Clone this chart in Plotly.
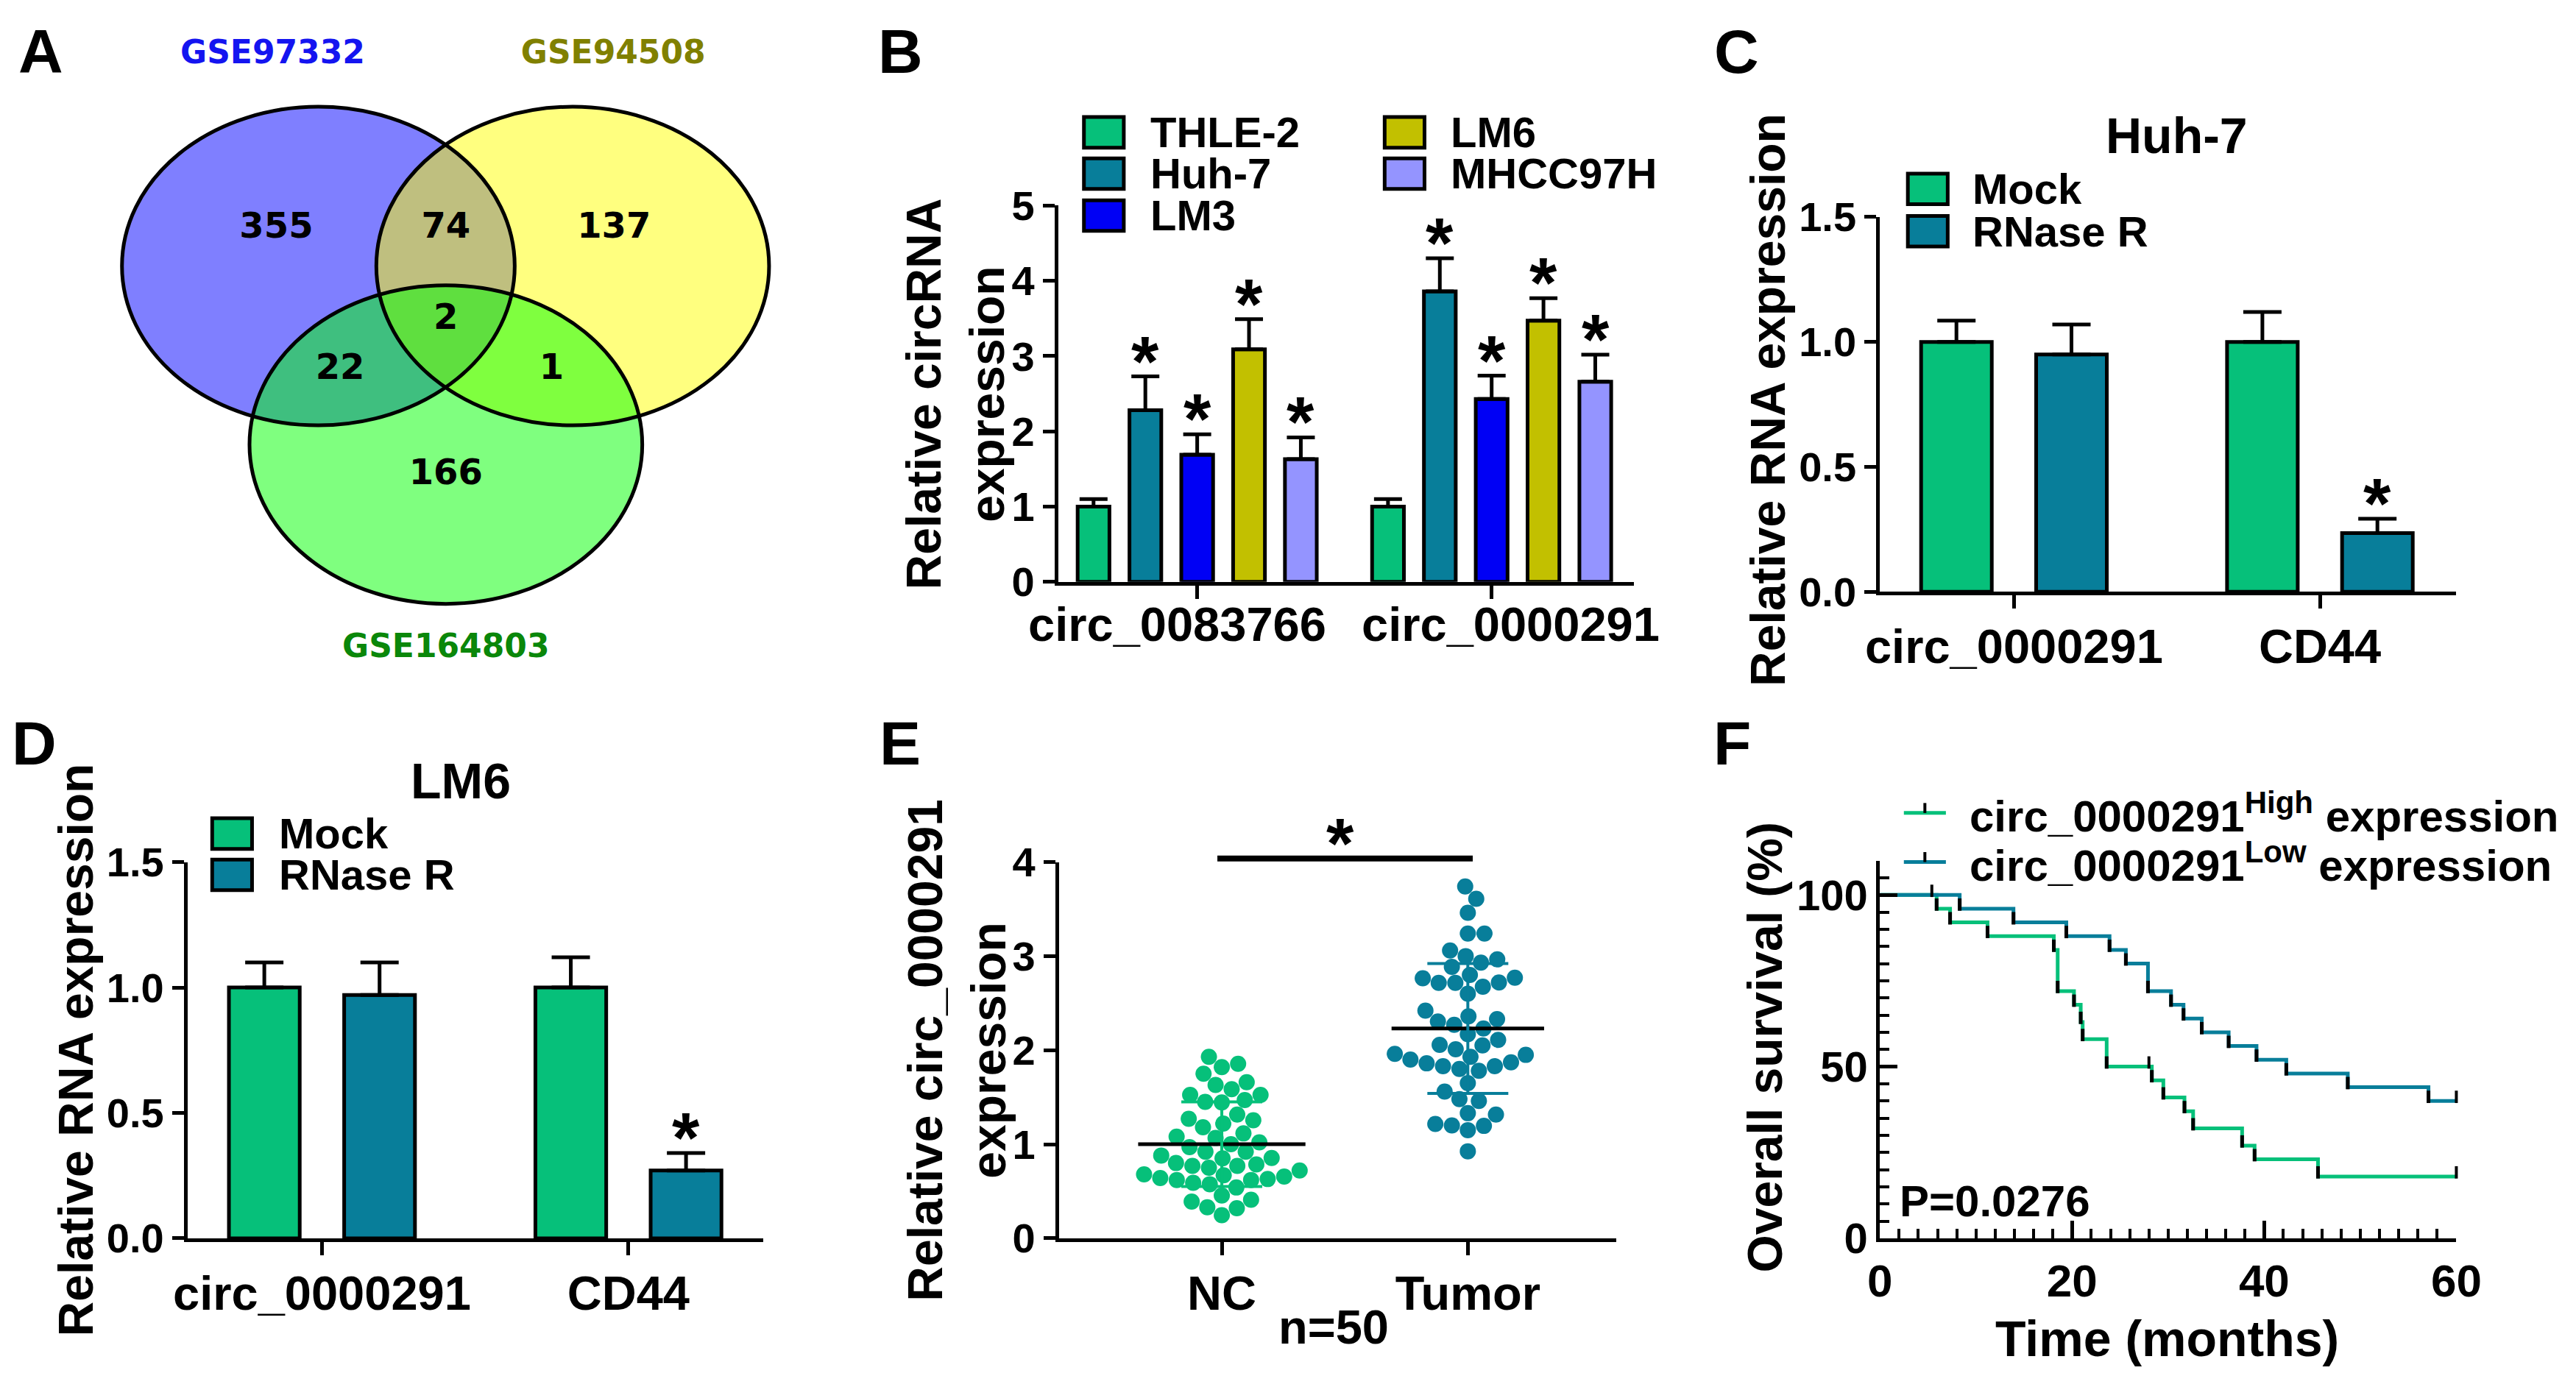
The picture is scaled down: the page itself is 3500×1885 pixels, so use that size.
import math
import plotly.graph_objects as go

W, H = 3500, 1885

# ---------------- data ----------------
# A: Venn
venn_sets = ["GSE97332", "GSE94508", "GSE164803"]
venn_regions = ["GSE97332 only", "GSE97332&GSE94508", "GSE94508 only",
                "GSE97332&GSE164803", "all three", "GSE94508&GSE164803", "GSE164803 only"]
venn_values = [355, 74, 137, 22, 2, 1, 166]

# B
b_groups = ["circ_0083766", "circ_0000291"]
b_series = ["THLE-2", "Huh-7", "LM3", "LM6", "MHCC97H"]
b_thle2 = [1.00, 1.00]
b_huh7 = [2.28, 3.86]
b_lm3 = [1.69, 2.43]
b_lm6 = [3.09, 3.47]
b_mhcc = [1.63, 2.66]
b_thle2_sd = [0.10, 0.10]
b_huh7_sd = [0.45, 0.44]
b_lm3_sd = [0.27, 0.31]
b_lm6_sd = [0.40, 0.30]
b_mhcc_sd = [0.29, 0.36]
b_sig = [False, True, True, True, True]

# C (Huh-7) and D (LM6)
rn_groups = ["circ_0000291", "CD44"]
rn_series = ["Mock", "RNase R"]
c_mock = [1.00, 1.00]
c_mock_sd = [0.085, 0.12]
c_rnase = [0.95, 0.235]
c_rnase_sd = [0.12, 0.057]
d_mock = [1.00, 1.00]
d_mock_sd = [0.10, 0.12]
d_rnase = [0.97, 0.27]
d_rnase_sd = [0.13, 0.07]
rn_sig_mock = [False, False]
rn_sig_rnase = [False, True]

# E
e_groups = ["NC", "Tumor"]
e_nc = [1.93, 1.82, 1.855, 1.75, 1.63, 1.66, 1.585, 1.525, 1.525, 1.47,
        1.445, 1.45, 1.315, 1.255, 1.27, 1.22, 1.18, 1.115, 1.066, 1.08,
        1.02, 1.00, 0.92, 0.92, 0.853, 0.88, 0.785, 0.80, 0.77, 0.77,
        0.72, 0.75, 0.67, 0.68, 0.64, 0.656, 0.62, 0.63, 0.59, 0.62,
        0.54, 0.575, 0.41, 0.455, 0.33, 0.39, 0.32, 0.245, 0.97, 0.85]
e_tumor = [3.74, 3.61, 3.46, 3.24, 3.24, 3.06, 3.00, 2.93, 2.885, 2.965,
           2.80, 2.765, 2.72, 2.715, 2.675, 2.715, 2.77, 2.60, 2.42, 2.36,
           2.33, 2.305, 2.27, 2.23, 2.17, 2.11, 2.05, 2.056, 2.01, 1.96,
           1.95, 1.93, 1.90, 1.87, 1.86, 1.83, 1.83, 1.78, 1.80, 1.65,
           1.56, 1.46, 1.48, 1.315, 1.33, 1.20, 1.195, 1.215, 1.15, 0.925]
e_mean = [1.00, 2.23]
e_sd = [0.45, 0.69]
e_n_label = "n=50"

# F: Kaplan-Meier
f_high_t = [0, 5.9, 7.3, 11.2, 18.1, 18.5, 20.2, 20.9, 21.1, 23.6, 28.3, 29.5,
            31.7, 32.6, 37.7, 39.0, 45.6, 60]
f_high_s = [100, 96, 92, 88, 84, 72, 68, 63, 58, 50, 46, 41, 37, 32, 27, 23, 18, 18]
f_low_t = [0, 8.3, 13.9, 19.4, 23.9, 25.6, 27.9, 30.3, 31.6, 33.5, 36.3, 39.2,
           42.3, 48.7, 57.1, 60]
f_low_s = [100, 96, 92, 88, 84, 80, 72, 68, 64, 60, 56, 52, 48, 44, 40, 40]
f_high_cens_t = [28.0, 60]
f_high_cens_s = [50, 18]
f_low_cens_t = [5.4, 60]
f_low_cens_s = [100, 40]
f_labels = ["circ_0000291<sup>High</sup> expression", "circ_0000291<sup>Low</sup> expression"]
f_pvalue = "P=0.0276"

# ---------------- style ----------------
GREEN = "#06C07A"
TEAL = "#087E9A"
BLUE = "#0000F5"
OLIVE = "#C2C000"
LAV = "#9494FF"
b_colors = [GREEN, TEAL, BLUE, OLIVE, LAV]
rn_colors = [GREEN, TEAL]

FAM = "Liberation Sans, Arial, sans-serif"
VFAM = "DejaVu Sans, Verdana, sans-serif"

TICK_SIZE = 56
CAT_SIZE = 65
LEG_SIZE = 58
TITLE_SIZE = 68
YT_SIZE = 66
STAR_SIZE = 96
STAR_SHIFT = -34
LETTER_SIZE = 84


def fnt(size, color="black", family=FAM):
    return dict(family=family, size=size, color=color, weight="bold")


def px_x(px):
    return px / W


def px_y(py):
    return 1 - py / H


fig = go.Figure()
shapes = []
annos = []

axis_common = dict(showline=True, linecolor="black", linewidth=5, showgrid=False,
                   zeroline=False, ticks="outside", tickwidth=5, tickcolor="black",
                   ticklen=16, tickfont=fnt(TICK_SIZE), fixedrange=True)


def text_at(text, cx, cy, size, xanchor="center", angle=0):
    annos.append(dict(text=text, x=px_x(cx), y=px_y(cy), xref="paper", yref="paper",
                      showarrow=False, xanchor=xanchor, yanchor="middle", textangle=angle,
                      font=fnt(size)))


def add_legend_box(cx, cy, w, h, color, label, tx, size=LEG_SIZE):
    shapes.append(dict(type="rect", xref="paper", yref="paper",
                       x0=px_x(cx - w / 2), x1=px_x(cx + w / 2),
                       y0=px_y(cy + h / 2), y1=px_y(cy - h / 2),
                       fillcolor=color, line=dict(color="black", width=5)))
    text_at(label, tx, cy, size, xanchor="left")


def add_bars(xa, ya, series_vals, series_sds, names, colors, sigs, slot, width, capw):
    nser = len(series_vals)
    for i, (vals, sds) in enumerate(zip(series_vals, series_sds)):
        off = (i - (nser - 1) / 2) * slot
        xs = [g + off for g in range(len(vals))]
        fig.add_trace(go.Bar(
            x=xs, y=vals, width=width, name=names[i], xaxis=xa, yaxis=ya,
            marker=dict(color=colors[i], line=dict(color="black", width=5)),
            error_y=dict(type="data", array=sds, arrayminus=[0] * len(sds), symmetric=False,
                         color="black", thickness=5, width=capw),
            showlegend=False))
        sig = sigs[i] if isinstance(sigs[i], list) else [sigs[i]] * len(vals)
        for x, v, s, flag in zip(xs, vals, sds, sig):
            if flag:
                annos.append(dict(text="*", x=x, y=v + s, xref=xa, yref=ya, showarrow=False,
                                  xanchor="center", yanchor="bottom", yshift=STAR_SHIFT,
                                  font=fnt(STAR_SIZE)))


# ---------------- Panel A: Venn ----------------
venn_centers = [(419, 342), (770, 342), (595, 593)]
venn_r = (271, 224)
venn_fill = ["rgba(0,0,255,0.5)", "rgba(255,255,0,0.5)", "rgba(0,255,0,0.5)"]
venn_label_pos = [(361, 290), (595, 290), (827, 290), (449, 488), (595, 418), (741, 488), (595, 636)]
venn_title_pos = [(356, 45), (826, 45), (595, 880)]
venn_title_col = ["#1414F0", "#808000", "#0A870A"]

for (cx, cy), fc in zip(venn_centers, venn_fill):
    shapes.append(dict(type="circle", xref="x6", yref="y6",
                       x0=cx - venn_r[0], x1=cx + venn_r[0], y0=cy - venn_r[1], y1=cy + venn_r[1],
                       fillcolor=fc, line=dict(width=0), layer="below"))
for (cx, cy) in venn_centers:
    shapes.append(dict(type="circle", xref="x6", yref="y6",
                       x0=cx - venn_r[0], x1=cx + venn_r[0], y0=cy - venn_r[1], y1=cy + venn_r[1],
                       fillcolor="rgba(0,0,0,0)", line=dict(color="black", width=5)))
fig.add_trace(go.Scatter(
    x=[p[0] for p in venn_label_pos], y=[p[1] for p in venn_label_pos],
    text=[str(v) for v in venn_values], mode="text", textposition="middle center",
    textfont=fnt(48, family=VFAM), xaxis="x6", yaxis="y6", showlegend=False, hoverinfo="skip"))
fig.add_trace(go.Scatter(
    x=[p[0] for p in venn_title_pos], y=[p[1] for p in venn_title_pos],
    text=venn_sets, mode="text", textposition="middle center",
    textfont=dict(family=VFAM, size=44, color=venn_title_col, weight="bold"),
    xaxis="x6", yaxis="y6", showlegend=False, hoverinfo="skip"))
text_at("A", 36, 40, LETTER_SIZE)

# ---------------- Panel B ----------------
add_bars("x", "y",
         [b_thle2, b_huh7, b_lm3, b_lm6, b_mhcc],
         [b_thle2_sd, b_huh7_sd, b_lm3_sd, b_lm6_sd, b_mhcc_sd],
         b_series, b_colors, b_sig, slot=0.176, width=0.108, capw=19)
text_at("B", 1222, 40, LETTER_SIZE)
leg_b = [(1503, 154), (1503, 212), (1503, 271), (1918, 154), (1918, 212)]
for i, name in enumerate(b_series):
    cx, cy = leg_b[i]
    add_legend_box(cx, cy, 55, 43, b_colors[i], name, cx + 62)
text_at("Relative circRNA<br>expression", 1298, 522, YT_SIZE, angle=-90)
b_label_x = [-0.068, 1.064]
for xv, lab in zip(b_label_x, b_groups):
    annos.append(dict(text=lab, x=xv, xref="x", y=px_y(846), yref="paper", showarrow=False,
                      xanchor="center", yanchor="middle", font=fnt(CAT_SIZE)))

# ---------------- Panel C ----------------
add_bars("x2", "y2", [c_mock, c_rnase], [c_mock_sd, c_rnase_sd], rn_series, rn_colors,
         [rn_sig_mock, rn_sig_rnase], slot=0.376, width=0.231, capw=26)
text_at("C", 2376, 40, LETTER_SIZE)
text_at("Huh-7", 2984, 158, TITLE_SIZE)
for i, name in enumerate(rn_series):
    add_legend_box(2640, [233.5, 293][i], 55, 43, rn_colors[i], name, 2700)
text_at("Relative RNA expression", 2420, 530, YT_SIZE, angle=-90)

# ---------------- Panel D ----------------
add_bars("x3", "y3", [d_mock, d_rnase], [d_mock_sd, d_rnase_sd], rn_series, rn_colors,
         [rn_sig_mock, rn_sig_rnase], slot=0.376, width=0.231, capw=26)
text_at("D", 27, 1013, LETTER_SIZE)
text_at("LM6", 616, 1066, TITLE_SIZE)
for i, name in enumerate(rn_series):
    add_legend_box(300, [1140, 1198][i], 55, 43, rn_colors[i], name, 363)
text_at("Relative RNA expression", 84, 1444, YT_SIZE, angle=-90)

# ---------------- Panel E ----------------
E_XPX, E_YPX = 340.0, 132.3   # px per unit on x / y in panel E


def swarm(values, d):
    order = sorted(range(len(values)), key=lambda i: values[i])
    placed = []
    xs = [0.0] * len(values)
    for i in order:
        y = values[i] * E_YPX
        cands = [0.0]
        for (px, py) in placed:
            dy = abs(py - y)
            if dy < d:
                dx = math.sqrt(d * d - dy * dy)
                cands += [px + dx, px - dx]
        cands.sort(key=abs)
        for c in cands:
            if all((c - px) ** 2 + (y - py) ** 2 >= d * d - 1e-6 for px, py in placed):
                xs[i] = c
                break
        placed.append((xs[i], y))
    return [x / E_XPX for x in xs]


for gi, (vals, col) in enumerate(zip([e_nc, e_tumor], rn_colors)):
    offs = swarm(vals, 23.0)
    fig.add_trace(go.Scatter(x=[gi + o for o in offs], y=vals, mode="markers",
                             marker=dict(color=col, size=22, line=dict(width=0)),
                             xaxis="x4", yaxis="y4", showlegend=False, cliponaxis=False))
e_half = [0.34, 0.31]
for gi in range(2):
    fig.add_trace(go.Scatter(x=[gi - e_half[gi], gi + e_half[gi]], y=[e_mean[gi]] * 2,
                             mode="lines", line=dict(color="black", width=5),
                             xaxis="x4", yaxis="y4", showlegend=False))
    fig.add_trace(go.Scatter(x=[gi], y=[e_mean[gi]], mode="markers",
                             marker=dict(size=1, color="rgba(0,0,0,0)"),
                             error_y=dict(type="data", array=[e_sd[gi]], color=rn_colors[gi],
                                          thickness=4, width=55),
                             xaxis="x4", yaxis="y4", showlegend=False))
shapes.append(dict(type="line", xref="x4", yref="paper", x0=-0.018, x1=1.02,
                   y0=px_y(1175), y1=px_y(1175), line=dict(color="black", width=8)))
annos.append(dict(text="*", x=0.48, xref="x4", y=px_y(1175), yref="paper", showarrow=False,
                  xanchor="center", yanchor="bottom", yshift=STAR_SHIFT, font=fnt(STAR_SIZE)))
text_at(e_n_label, 1820, 1834, CAT_SIZE)
text_at("E", 1222, 1013, LETTER_SIZE)
text_at("Relative circ_0000291<br>expression", 1300, 1444, YT_SIZE, angle=-90)

# ---------------- Panel F ----------------
F_TICK = 1.2   # survival-% offset so each black event tick sits just above the new level
for t, s, col in [(f_high_t, f_high_s, GREEN), (f_low_t, f_low_s, TEAL)]:
    fig.add_trace(go.Scatter(x=t, y=s, mode="lines", line=dict(color=col, width=5, shape="hv"),
                             xaxis="x5", yaxis="y5", showlegend=False))
    fig.add_trace(go.Scatter(x=t[1:-1], y=[v + F_TICK for v in s[1:-1]], mode="markers",
                             marker=dict(symbol="line-ns", size=12,
                                         line=dict(color="black", width=5)),
                             xaxis="x5", yaxis="y5", showlegend=False, hoverinfo="skip"))
for t, s in [(f_high_cens_t, f_high_cens_s), (f_low_cens_t, f_low_cens_s)]:
    fig.add_trace(go.Scatter(x=t, y=[v + F_TICK for v in s], mode="markers", cliponaxis=False,
                             marker=dict(symbol="line-ns", size=12, line=dict(color="black", width=4)),
                             xaxis="x5", yaxis="y5", showlegend=False, hoverinfo="skip"))
text_at("F", 2370, 1013, LETTER_SIZE)
for i, (lab, col) in enumerate(zip(f_labels, [GREEN, TEAL])):
    ly = [1111, 1180][i]
    shapes.append(dict(type="line", xref="paper", yref="paper", x0=px_x(2607), x1=px_x(2665),
                       y0=px_y(ly), y1=px_y(ly), line=dict(color=col, width=5)))
    shapes.append(dict(type="line", xref="paper", yref="paper", x0=px_x(2636), x1=px_x(2636),
                       y0=px_y(ly), y1=px_y(ly - 14), line=dict(color="black", width=4)))
    text_at(lab, 2696, ly, 60, xanchor="left")
text_at(f_pvalue, 2599, 1657, 60, xanchor="left")
text_at("Time (months)", 2970, 1850, TITLE_SIZE)
text_at("Overall survival (%)", 2415, 1440, YT_SIZE, angle=-90)

# ---------------- axes ----------------
cat_font = fnt(CAT_SIZE)
BOT = 1709
STO = -4
layout_axes = dict(
    xaxis=dict(axis_common, domain=[px_x(1440), px_x(2234)], range=[-0.472, 1.482],
               tickvals=[0, 1], showticklabels=False, ticklen=18, anchor="y"),
    yaxis=dict(axis_common, domain=[px_y(786), px_y(257)], range=[0, 5], dtick=1, anchor="x"),
    xaxis2=dict(axis_common, domain=[px_x(2574), px_x(3369)], range=[-0.438, 1.445],
                tickvals=[0, 1], ticktext=rn_groups, tickfont=cat_font, ticklen=18,
                ticklabelstandoff=STO, anchor="y2"),
    yaxis2=dict(axis_common, domain=[px_y(800), px_y(273)], range=[0, 1.5],
                tickvals=[0, 0.5, 1.0, 1.5], ticktext=["0.0", "0.5", "1.0", "1.5"], anchor="x2"),
    xaxis3=dict(axis_common, domain=[px_x(238.5), px_x(1033)], range=[-0.4385, 1.44],
                tickvals=[0, 1], ticktext=rn_groups, tickfont=cat_font, ticklen=18,
                ticklabelstandoff=STO, anchor="y3"),
    yaxis3=dict(axis_common, domain=[px_y(BOT), px_y(1180)], range=[0, 1.5],
                tickvals=[0, 0.5, 1.0, 1.5], ticktext=["0.0", "0.5", "1.0", "1.5"], anchor="x3"),
    xaxis4=dict(axis_common, domain=[px_x(1441), px_x(2210)], range=[-0.662, 1.603],
                tickvals=[0, 1], ticktext=e_groups, tickfont=cat_font, ticklen=18,
                ticklabelstandoff=STO, anchor="y4"),
    yaxis4=dict(axis_common, domain=[px_y(BOT), px_y(1180)], range=[0, 4], dtick=1, anchor="x4"),
    xaxis5=dict(axis_common, domain=[px_x(2574), px_x(3369.4)], range=[0, 60],
                tickvals=[0, 20, 40, 60], ticks="inside", ticklen=24, tickfont=fnt(62),
                minor=dict(dtick=2, ticks="inside", ticklen=13, tickwidth=4, tickcolor="black"),
                anchor="y5"),
    yaxis5=dict(axis_common, domain=[px_y(BOT), px_y(1178)], range=[0, 110],
                tickvals=[0, 50, 100], ticks="inside", ticklen=24, tickfont=fnt(58),
                minor=dict(dtick=5, ticks="inside", ticklen=13, tickwidth=4, tickcolor="black"),
                anchor="x5"),
    xaxis6=dict(domain=[0, px_x(1200)], range=[0, 1200], visible=False, anchor="y6", fixedrange=True),
    yaxis6=dict(domain=[px_y(950), 1], range=[950, 0], visible=False, anchor="x6", fixedrange=True),
)

fig.update_layout(
    width=W, height=H, margin=dict(l=0, r=0, t=0, b=0),
    paper_bgcolor="white", plot_bgcolor="white",
    barmode="overlay", showlegend=False,
    shapes=shapes, annotations=annos, **layout_axes)

fig.write_html("out.html", config={"displayModeBar": False},
               post_script="document.body.style.margin='0px';")
